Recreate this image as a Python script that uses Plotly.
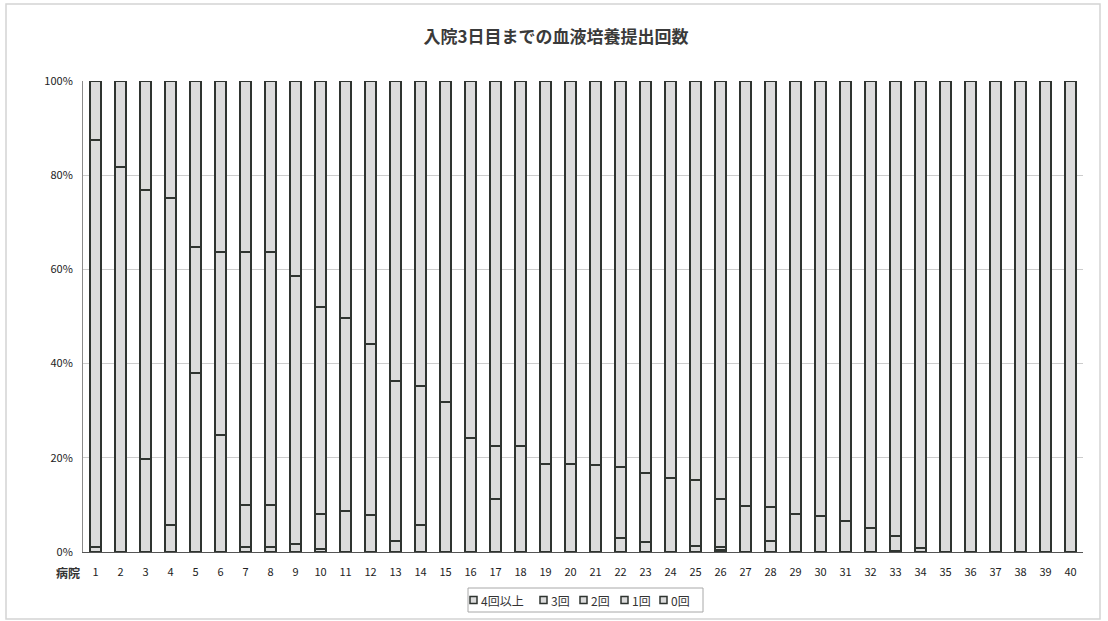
import plotly.graph_objects as go

hospitals = [str(i) for i in range(1, 41)]
series_names = ["4回以上", "3回", "2回", "1回", "0回"]

# percentages per hospital (bottom -> top stacking order: 4回以上, 3回, 2回, 1回, 0回)
v4plus = [0] * 40
v3 = [0, 0, 0, 0, 0, 0, 1.0, 1.0, 0, 0.6,
      0, 0, 0, 0, 0, 0, 0, 0, 0, 0,
      0, 0, 0, 0, 0, 0.4, 0, 0, 0, 0,
      0, 0, 0, 0, 0, 0, 0, 0, 0, 0]
v2 = [1.0, 0, 19.7, 5.8, 37.9, 24.9, 9.0, 9.0, 1.7, 7.5,
      8.8, 7.9, 2.3, 5.8, 0, 0, 11.3, 0, 0, 0,
      0, 3.0, 2.1, 0, 1.3, 0.7, 0, 2.3, 0, 0,
      0, 0, 0.3, 0, 0, 0, 0, 0, 0, 0]
v1 = [86.5, 81.7, 57.2, 69.3, 26.8, 38.9, 53.8, 53.8, 57.0, 43.9,
      40.8, 36.3, 34.0, 29.4, 31.8, 24.3, 11.3, 22.6, 18.7, 18.7,
      18.5, 15.0, 14.6, 15.7, 14.0, 10.1, 9.7, 7.3, 8.0, 7.7,
      6.6, 5.1, 3.1, 0.9, 0, 0, 0, 0, 0, 0]
v0 = [12.5, 18.3, 23.1, 24.9, 35.3, 36.2, 36.2, 36.2, 41.3, 48.0,
      50.4, 55.8, 63.7, 64.8, 68.2, 75.7, 77.4, 77.4, 81.3, 81.3,
      81.5, 82.0, 83.3, 84.3, 84.7, 88.8, 90.3, 90.4, 92.0, 92.3,
      93.4, 94.9, 96.6, 99.1, 100, 100, 100, 100, 100, 100]

series_values = [v4plus, v3, v2, v1, v0]

y_ticks = [0, 20, 40, 60, 80, 100]
y_tick_labels = ["0%", "20%", "40%", "60%", "80%", "100%"]

title_text = "入院3日目までの血液培養提出回数"
x_label = "病院"

CJK = "Noto Sans CJK JP, sans-serif"
FILL = "#dcdcdc"
EDGE = "#2f3430"

W, H = 1108, 621
L, R, T, B = 83, 25, 81, 69
PW, PH = W - L - R, H - T - B


def px_x(px):
    return (px - L) / PW


def px_y(py):
    return (H - B - py) / PH


fig = go.Figure()
for name, vals in zip(series_names, series_values):
    fig.add_trace(go.Bar(
        x=hospitals, y=vals, name=name, showlegend=False,
        marker=dict(color=FILL, line=dict(color=EDGE, width=2)),
    ))

fig.update_layout(
    template="none",
    width=W, height=H,
    barmode="stack", bargap=0.55,
    paper_bgcolor="white", plot_bgcolor="white",
    margin=dict(l=L, r=R, t=T, b=B, autoexpand=False),
    font=dict(family=CJK, size=10, color="#222"),
    title=dict(text="<b>" + title_text + "</b>", x=556 / W, xref="container",
               y=1 - 37 / H, yanchor="middle", xanchor="center",
               font=dict(size=17, color="#3a3a3a", family=CJK)),
)

fig.update_xaxes(
    type="category", range=[-0.5, 39.5],
    showgrid=False, showline=True, linecolor="#555", linewidth=1,
    ticks="", tickfont=dict(size=11, color="#222", family=CJK), ticklabelstandoff=10,
)
fig.update_yaxes(
    range=[0, 100], tickvals=y_ticks, ticktext=y_tick_labels,
    showgrid=True, gridcolor="#cccccc", gridwidth=1,
    showline=True, linecolor="#8a8a8a", linewidth=1,
    ticks="", tickfont=dict(size=11, color="#222", family=CJK), ticklabelstandoff=7,
    zeroline=False,
)

# "病院" axis caption left of the category labels
fig.add_annotation(text="<b>" + x_label + "</b>", xref="paper", yref="paper",
                   x=px_x(68), y=px_y(572), xanchor="center", yanchor="middle",
                   showarrow=False, font=dict(size=12, color="#333", family=CJK))

# outer chart border
fig.add_shape(type="rect", xref="paper", yref="paper",
              x0=px_x(6), x1=px_x(1100), y0=px_y(619), y1=px_y(4),
              line=dict(color="#d4d4d4", width=1.5), fillcolor="rgba(0,0,0,0)",
              layer="below")

# compact legend (Excel style) built from series names
legend_box = (468, 703, 588, 612)
marker_left = [470, 540, 580, 621, 660]
legend_cy = 600
fig.add_shape(type="rect", xref="paper", yref="paper",
              x0=px_x(legend_box[0]), x1=px_x(legend_box[1]),
              y0=px_y(legend_box[3]), y1=px_y(legend_box[2]),
              line=dict(color="#a8a8a8", width=1), fillcolor="white")
for name, mx in zip(series_names, marker_left):
    fig.add_shape(type="rect", xref="paper", yref="paper",
                  x0=px_x(mx), x1=px_x(mx + 7),
                  y0=px_y(legend_cy + 3.5), y1=px_y(legend_cy - 3.5),
                  line=dict(color=EDGE, width=1.5), fillcolor=FILL)
    fig.add_annotation(text=name, xref="paper", yref="paper",
                       x=px_x(mx + 9), y=px_y(legend_cy), xanchor="left", yanchor="middle",
                       showarrow=False, font=dict(size=12, color="#333", family=CJK))

fig.write_html("out.html", config={"displayModeBar": False},
               post_script="document.body.style.margin='0px';document.body.style.padding='0px';")
